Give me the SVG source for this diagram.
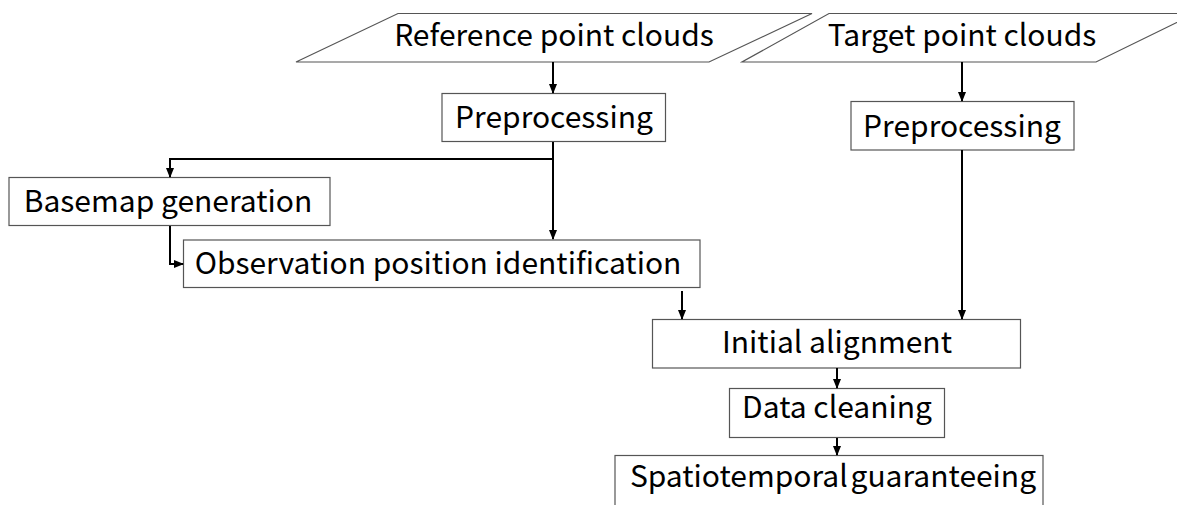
<svg xmlns="http://www.w3.org/2000/svg" width="1177" height="505" viewBox="0 0 1177 505">
<style>
.box{fill:#fff;stroke:#555;stroke-width:1.2}
.t{font-family:"Noto Sans CJK SC","Noto Sans",sans-serif;font-size:30px;fill:#000;text-anchor:middle}
.c{fill:none;stroke:#000;stroke-width:2}
</style>
<defs>
<marker id="ah" markerWidth="10" markerHeight="10" refX="9" refY="5" orient="auto" markerUnits="userSpaceOnUse">
<path d="M0,1 L10,5 L0,9 Z" fill="#000"/>
</marker>
</defs>
<rect width="1177" height="505" fill="#fff"/>
<g id="ref-input">
<polygon class="box" points="398,13.5 812,13.5 709,62 296,62"/>
<text class="t" x="554" y="46">Reference point clouds</text>
</g>
<g id="target-input">
<polygon class="box" points="829,13.5 1195,13.5 1096,62 742,62"/>
<text class="t" x="962" y="46">Target point clouds</text>
</g>
<g id="ref-preproc">
<rect class="box" x="442" y="93.5" width="223.5" height="48"/>
<text class="t" x="554" y="128">Preprocessing</text>
</g>
<g id="target-preproc">
<rect class="box" x="851" y="101.5" width="223" height="48.5"/>
<text class="t" x="962" y="137">Preprocessing</text>
</g>
<g id="basemap">
<rect class="box" x="9" y="177.5" width="321" height="48"/>
<text class="t" x="168" y="212">Basemap generation</text>
</g>
<g id="observation">
<rect class="box" x="183.5" y="240" width="516.5" height="47.5"/>
<text class="t" x="438" y="274">Observation position identification</text>
</g>
<g id="initial-alignment">
<rect class="box" x="652.5" y="319.5" width="368" height="48.5"/>
<text class="t" x="837" y="353">Initial alignment</text>
</g>
<g id="data-cleaning">
<rect class="box" x="729.5" y="388.5" width="215" height="49"/>
<text class="t" x="837" y="418">Data cleaning</text>
</g>
<g id="spatiotemporal">
<rect class="box" x="615" y="455.5" width="428" height="60"/>
<text class="t" x="833" y="487" word-spacing="-4">Spatiotemporal guaranteeing</text>
</g>
<g id="connectors">
<path class="c" d="M553,62 V93" marker-end="url(#ah)"/>
<path class="c" d="M962,62 V101" marker-end="url(#ah)"/>
<path class="c" d="M553,142 V239" marker-end="url(#ah)"/>
<path class="c" d="M553,159 H170 V177" marker-end="url(#ah)"/>
<path class="c" d="M170,226 V264 H183" marker-end="url(#ah)"/>
<path class="c" d="M682,291 V319" marker-end="url(#ah)"/>
<path class="c" d="M962,150 V319" marker-end="url(#ah)"/>
<path class="c" d="M837,368 V388" marker-end="url(#ah)"/>
<path class="c" d="M837,438 V455" marker-end="url(#ah)"/>
</g>
</svg>
